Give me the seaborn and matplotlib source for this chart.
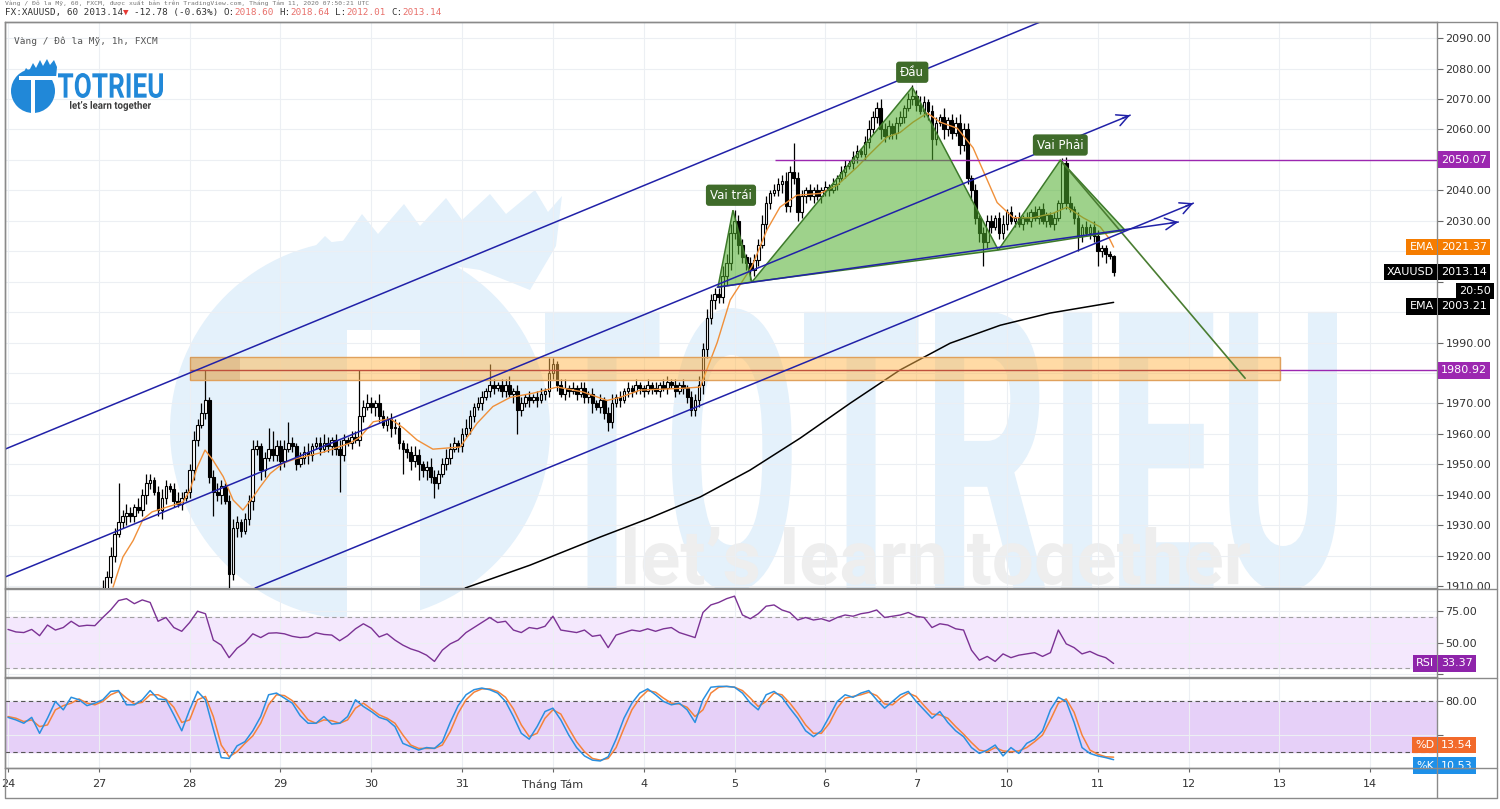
import numpy as np
import pandas as pd
import seaborn as sns
import matplotlib
matplotlib.use("Agg")
import matplotlib.pyplot as plt
from matplotlib.patches import Rectangle, Polygon, Circle, PathPatch
from matplotlib.textpath import TextPath
from matplotlib.font_manager import FontProperties
from matplotlib.transforms import Affine2D, blended_transform_factory
from matplotlib.ticker import FuncFormatter

# ---------------- data: XAUUSD 1h, x = bar index (23 bars per trading day) ----------------
bars_per_day = 23
day_labels = ["24", "27", "28", "29", "30", "31", "Tháng Tám", "4", "5", "6", "7",
              "10", "11", "12", "13", "14"]

first_bar = 23
first_open = 1903.0
closes = (
    [1906, 1909, 1913, 1920, 1927, 1931, 1933, 1934, 1933, 1936, 1935, 1940, 1944, 1945, 1941, 1935,
     1939, 1943, 1942, 1938, 1937, 1939, 1941]                                   # Jul 27
    + [1948, 1958, 1963, 1967, 1971, 1946, 1941, 1940, 1943, 1938, 1914, 1929, 1931, 1928, 1932, 1938,
       1955, 1956, 1948, 1952, 1955, 1953, 1956]                                 # Jul 28
    + [1951, 1955, 1957, 1956, 1950, 1952, 1954, 1953, 1956, 1957, 1955, 1957, 1956, 1958, 1955, 1953,
       1958, 1957, 1959, 1958, 1966, 1969, 1970]                                 # Jul 29
    + [1969, 1970, 1966, 1963, 1965, 1962, 1962, 1957, 1955, 1954, 1951, 1953, 1950, 1948, 1949, 1946,
       1944, 1947, 1950, 1952, 1955, 1957, 1956]                                 # Jul 30
    + [1960, 1962, 1966, 1969, 1970, 1972, 1974, 1976, 1975, 1976, 1974, 1976, 1973, 1974, 1968, 1970,
       1972, 1971, 1972, 1971, 1973, 1974, 1980]                                 # Jul 31
    + [1983, 1976, 1973, 1975, 1974, 1975, 1973, 1975, 1972, 1973, 1970, 1969, 1971, 1967, 1964, 1970,
       1972, 1971, 1974, 1975, 1974, 1976, 1975]                                 # Aug 3
    + [1974, 1976, 1975, 1974, 1976, 1975, 1977, 1976, 1974, 1976, 1975, 1972, 1968, 1971, 1976, 1988,
       1998, 2004, 2006, 2005, 2012, 2016, 2026]                                 # Aug 4
    + [2030, 2022, 2018, 2016, 2014, 2017, 2022, 2029, 2036, 2039, 2040, 2042, 2043, 2035, 2046, 2044,
       2033, 2038, 2040, 2038, 2040, 2038, 2040]                                 # Aug 5
    + [2041, 2040, 2042, 2044, 2046, 2048, 2049, 2051, 2053, 2052, 2056, 2060, 2064, 2067, 2060, 2058,
       2061, 2059, 2062, 2064, 2067, 2070, 2071]                                 # Aug 6
    + [2068, 2066, 2069, 2066, 2057, 2062, 2064, 2060, 2063, 2059, 2062, 2055, 2060, 2044, 2040, 2031,
       2026, 2023, 2030, 2028, 2031, 2026, 2029]                                 # Aug 7
    + [2033, 2030, 2031, 2029, 2031, 2030, 2033, 2031, 2034, 2030, 2032, 2029, 2031, 2036, 2049, 2036,
       2034, 2031, 2025, 2028, 2026, 2028, 2025]                                 # Aug 10
    + [2020, 2021, 2019, 2018.60, 2013.14]                                       # Aug 11
)
up_wick = (
    [2, 3, 2, 3, 2, 13, 2, 3, 2, 1, 3, 2, 3, 2, 1, 2, 3, 2, 1, 2, 3, 2, 1]
    + [2, 3, 2, 3, 10, 1, 2, 3, 2, 1, 2, 3, 2, 1, 2, 2, 3, 2, 1, 2, 7, 6, 2]
    + [2, 3, 7, 2, 1, 2, 2, 3, 1, 2, 2, 3, 2, 1, 2, 3, 2, 1, 2, 2, 15, 2, 3]
    + [2, 1, 3, 2, 1, 2, 3, 2, 1, 2, 2, 3, 2, 1, 2, 3, 2, 1, 2, 3, 2, 2, 1]
    + [2, 3, 2, 1, 2, 2, 1, 7, 2, 1, 2, 2, 3, 1, 2, 2, 1, 2, 1, 2, 2, 1, 5]
    + [2, 1, 2, 3, 1, 2, 1, 2, 2, 1, 2, 1, 2, 1, 2, 3, 1, 2, 1, 2, 1, 2, 1]
    + [1, 2, 1, 2, 1, 2, 2, 1, 2, 1, 2, 1, 2, 2, 3, 2, 3, 2, 2, 2, 3, 3, 3]
    + [3.5, 2, 2, 1, 2, 2, 2, 3, 2, 1, 2, 2, 2, 3, 2, 9.5, 2, 2, 1, 2, 1, 2, 1]
    + [2, 1, 2, 1, 2, 2, 1, 2, 2, 1, 2, 3, 2, 2, 3, 2, 2, 1, 2, 2, 1, 2, 3.5]
    + [2, 3, 2, 1, 2, 2, 1, 3, 1, 2, 2, 3, 2, 2, 1, 2, 1, 2, 2, 2, 1, 2, 3]
    + [1, 2, 1, 2, 1, 2, 1, 2, 1, 2, 1, 1, 2, 1, 1.5, 2, 2, 1, 2, 1, 2, 1, 2]
    + [2, 1, 1, 1, 0.04]
)
down_wick = (
    [3, 2, 3, 2, 2, 1, 2, 3, 2, 2, 1, 2, 3, 2, 1, 2, 3, 2, 1, 2, 1, 2, 1]
    + [2, 3, 2, 1, 2, 2, 8, 2, 3, 1, 5, 2, 3, 2, 1, 2, 3, 2, 3, 2, 1, 2, 2]
    + [3, 2, 1, 2, 2, 1, 2, 3, 2, 1, 2, 1, 2, 3, 2, 12, 2, 1, 2, 1, 2, 2, 1]
    + [2, 3, 2, 1, 2, 3, 2, 2, 8, 2, 3, 2, 5, 2, 3, 2, 5, 2, 1, 2, 2, 1, 2]
    + [2, 1, 2, 2, 1, 2, 1, 2, 2, 1, 2, 2, 1, 3, 8, 2, 1, 2, 1, 2, 1, 2, 2]
    + [2, 2, 1, 2, 2, 1, 2, 1, 2, 2, 3, 1, 2, 2, 3, 2, 1, 2, 1, 2, 2, 1, 2]
    + [2, 1, 2, 1, 2, 1, 2, 1, 2, 1, 2, 2, 2, 2, 2, 3, 3, 2, 3, 2, 2, 3, 2]
    + [2, 3, 2, 2, 3.5, 2, 2, 1, 2, 2, 1, 2, 3, 2, 2, 2, 3, 2, 2, 1, 2, 1, 2]
    + [2, 2, 1, 2, 1, 2, 1, 2, 2, 1, 2, 2, 1, 2, 3, 2, 1, 2, 2, 1, 2, 1, 2]
    + [2, 1, 2, 3, 7, 2, 1, 3, 2, 2, 1, 3, 2, 2, 3, 2, 3, 8, 2, 2, 1, 2, 2]
    + [2, 1, 2, 1, 2, 1, 2, 1, 2, 1, 2, 1, 2, 1, 2, 2, 1, 2, 5, 2, 1, 2, 2]
    + [5, 2, 3, 1, 1.13]
)

# EMA lines (bar, price)
ema_fast_bar = [26.6, 29.1, 31.7, 34.2, 36.5, 40.3, 44.3, 46.1, 47.9, 49.9, 51.9, 54.5, 57.0, 59.5,
                62.1, 63.8, 66.4, 69.7, 73.2, 79.8, 86.6, 89.2, 92.5, 96.8, 100.1, 103.6, 107.6,
                114.5, 118.8, 122.8, 127.2, 133.0, 139.1, 145.6, 151.7, 155.0, 160.1, 171.0, 175.3,
                179.6, 182.9, 188.4, 192.2, 195.5, 199.8, 205.7, 210.0, 215.0, 218.3, 222.6, 225.9,
                229.2, 232.8, 236.1, 240.4, 244.4, 248.0, 250.5, 254.6, 259.6, 264.7, 268.2, 272.3,
                276.6, 279.0, 280.0]
ema_fast_val = [1909.7, 1919.6, 1925, 1932, 1934.4, 1936, 1937.6, 1941.6, 1949, 1954.7, 1951.4, 1946,
                1938.3, 1935, 1939.3, 1942.5, 1947, 1950.4, 1952, 1954, 1957, 1959, 1964, 1965, 1962,
                1958, 1955, 1955.7, 1963.5, 1969, 1972, 1973.4, 1975.4, 1973.8, 1971, 1972, 1974.4,
                1975, 1975.4, 1990, 2004, 2015, 2027, 2034.5, 2038.4, 2039, 2041.7, 2047.6, 2052,
                2057.5, 2059, 2062.4, 2065.4, 2062.4, 2060.4, 2054, 2043.4, 2036, 2031, 2031, 2032.5,
                2034.5, 2031, 2028, 2024, 2021.37]
ema_slow_bar = [115.8, 132.2, 149.9, 162.6, 175.3, 187.9, 200.6, 213.3, 225.9, 238.6, 251.3, 263.9, 280.0]
ema_slow_val = [1909.4, 1916.9, 1926.1, 1932.4, 1939.3, 1948.1, 1958.6, 1970.1, 1981.0, 1989.8,
                1995.7, 1999.7, 2003.21]

# indicators, one value every 2 bars from bar 0
rsi = [60.5, 58.5, 58, 60.5, 55.5, 64, 60, 62, 67, 63,
       63.8, 63.5, 70, 76, 83.5, 85, 81, 84, 82, 67,
       70, 62, 59, 66, 75, 73, 52, 48, 38, 45.5,
       50, 57, 54, 57.5, 57.8, 57, 55, 54, 54.5, 57.8,
       56.5, 56, 51.5, 55.5, 61, 65, 61.5, 54.5, 57, 52,
       48, 45, 43, 40, 35, 44, 49, 52, 58, 62,
       66, 70, 66, 67, 60, 58, 62, 61, 63, 71,
       60, 59, 58, 60, 55, 56, 46, 56, 58, 60,
       59, 61, 59, 61, 62, 58, 56, 54, 74, 80,
       82, 85, 87, 72, 69, 73, 79, 80, 76, 74,
       68, 70, 68, 69, 67, 70, 72, 71, 73, 74,
       76, 70, 71, 72, 74, 71, 70, 62, 65, 64,
       61, 60, 44, 36, 39, 35, 41, 38, 40, 41,
       42, 39, 42, 60, 49, 46, 41, 43, 40, 38,
       33.37]
stoch_k = [61, 58, 54, 61, 42, 60, 80, 70, 85, 82,
           75, 78, 82, 92, 93, 76, 76, 82, 93, 83,
           82, 64, 45, 70, 92, 82, 47, 13, 12, 27,
           32, 45, 62, 88, 90, 84, 78, 63, 54, 54,
           62, 53, 54, 62, 82, 74, 68, 61, 58, 50,
           30, 26, 22, 25, 24, 32, 55, 75, 88, 94,
           96, 94, 90, 80, 62, 42, 35, 50, 68, 72,
           58, 40, 25, 15, 10, 9, 14, 35, 60, 78,
           90, 95, 88, 80, 76, 78, 70, 55, 82, 97,
           98, 98, 97, 90, 78, 70, 88, 92, 85, 72,
           60, 45, 38, 45, 62, 80, 88, 85, 90, 93,
           82, 72, 80, 88, 92, 80, 70, 60, 68, 55,
           45, 38, 25, 18, 22, 28, 15, 25, 18, 30,
           35, 45, 70, 85, 80, 55, 25, 18, 15, 13,
           10.53]
stoch_d = [62, 60, 56, 58, 50, 52, 70, 75, 78, 83,
           78, 76, 80, 88, 92, 84, 77, 79, 88, 88,
           83, 73, 55, 58, 82, 86, 62, 28, 14, 20,
           30, 39, 54, 76, 88, 87, 81, 70, 58, 54,
           58, 57, 54, 58, 72, 78, 71, 64, 60, 54,
           40, 28, 24, 24, 24, 28, 44, 66, 82, 91,
           95, 95, 92, 85, 71, 52, 38, 42, 60, 70,
           65, 48, 32, 20, 12, 10, 12, 25, 48, 70,
           84, 93, 91, 84, 78, 77, 73, 62, 70, 90,
           97, 98, 97, 93, 84, 74, 80, 90, 88, 78,
           66, 52, 42, 42, 54, 72, 84, 86, 88, 91,
           87, 77, 76, 84, 90, 86, 75, 65, 64, 60,
           50, 41, 31, 22, 20, 25, 21, 20, 21, 25,
           32, 40, 58, 78, 83, 67, 40, 22, 17, 14,
           13.54]

# drawings (bar, price)
channel_top = [(-0.76, 1955.0), (270.0, 2099.9)]
channel_mid = [(-0.76, 1913.0), (284.2, 2064.7)]
channel_low = [(62.6, 1909.4), (300.2, 2035.8)]
neck_ray = [(179.6, 2008.2), (296.4, 2029.6)]
left_shoulder = [(179.8, 2008.2), (183.6, 2033.5), (188.4, 2009.9)]
head = [(188.4, 2009.9), (229.0, 2073.9), (250.8, 2020.4)]
right_shoulder = [(250.8, 2020.4), (266.5, 2049.9), (282.9, 2026.9)]
target_leg = [(266.5, 2049.9), (313.3, 1978.3)]
pattern_labels = [("Vai trái", 183.1, 2038.4), ("Đầu", 229.0, 2078.8), ("Vai Phải", 266.5, 2054.9)]
zone = (46.1, 322.2, 1977.7, 1985.2)
zone_line = 1980.92
resistance = 2050.07
resistance_start = 194.3

# tick labels hidden behind price-scale tags
hidden_price_ticks = [2050, 2020, 2010, 2000, 1980]

# ---------------- figure ----------------
sns.set_theme(style="white")
plt.rcParams["font.family"] = ["DejaVu Sans"]
W, H = 1500, 809
fig = plt.figure(figsize=(15, 8.09), dpi=100, facecolor="white")


def frac(x0, y0, x1, y1):
    return [x0 / W, 1 - y1 / H, (x1 - x0) / W, (y1 - y0) / H]


ax_bg = fig.add_axes([0, 0, 1, 1], zorder=0)
ax_bg.set_xlim(0, W)
ax_bg.set_ylim(H, 0)
ax_bg.axis("off")

ax = fig.add_axes(frac(5, 22, 1437, 588), zorder=1)
ax_rsi = fig.add_axes(frac(5, 589, 1437, 677), sharex=ax, zorder=1)
ax_st = fig.add_axes(frac(5, 678, 1437, 768), sharex=ax, zorder=1)

ax_top = fig.add_axes([0, 0, 1, 1], zorder=5)
ax_top.set_xlim(0, W)
ax_top.set_ylim(H, 0)
ax_top.axis("off")


def fit_text(axis, s, box, color, family="DejaVu Sans", weight="bold", clip=None, z=0):
    x0, y0, x1, y1 = box
    tp = TextPath((0, 0), s, size=100, prop=FontProperties(family=family, weight=weight))
    ext = tp.get_extents()
    tr = (Affine2D().translate(-ext.x0, -ext.y0)
          .scale((x1 - x0) / ext.width, -(y1 - y0) / ext.height).translate(x0, y1))
    p = PathPatch(tr.transform_path(tp), fc=color, ec="none", zorder=z)
    axis.add_patch(p)
    if clip is not None:
        p.set_clip_path(clip)


# watermark
wm_blue = "#e4f1fb"
pane_clip = Rectangle((5, 22), 1432, 566, transform=ax_bg.transData)
ax_bg.add_patch(Circle((360, 430), 190, fc=wm_blue, ec="none", zorder=1))
ax_bg.add_patch(Polygon([(300, 262), (325, 236), (338, 248), (362, 214), (378, 234), (404, 204),
                         (420, 226), (446, 198), (462, 220), (490, 194), (506, 214), (535, 190),
                         (548, 212), (562, 196), (556, 246), (530, 290), (480, 270), (400, 258)],
                        fc=wm_blue, ec="none", zorder=1))
ax_bg.add_patch(Rectangle((347, 330), 73, 300, fc="white", ec="none", zorder=2))
fit_text(ax_bg, "TOTRIEU", (545, 308, 1337, 592), wm_blue, family="Roboto", clip=pane_clip, z=3)
fit_text(ax_bg, "let’s learn together", (625, 527, 1250, 600), "#eeeeee", family="Roboto",
         weight="bold", clip=pane_clip, z=4)

for a in (ax, ax_rsi, ax_st):
    a.set_facecolor("none")
    a.grid(True, color="#eceff3", linewidth=0.8)
    a.set_axisbelow(True)
    for sp in a.spines.values():
        sp.set_color("#8a8a8a")
        sp.set_linewidth(1)
    a.yaxis.tick_right()
    a.tick_params(axis="y", which="both", right=True, left=False, length=4, width=0.8,
                  color="#666", labelsize=8, labelcolor="#333", pad=2)


def price_fmt(hidden):
    return FuncFormatter(lambda v, pos: "" if round(v) in hidden else f"{v:.2f}")


ax.yaxis.set_major_formatter(price_fmt(hidden_price_ticks))
ax_rsi.yaxis.set_major_formatter(price_fmt([25]))
ax_st.yaxis.set_major_formatter(price_fmt([40]))

day_pos = [i * bars_per_day for i in range(len(day_labels))]
ax.set_xlim(-0.76, 361.9)
ax.set_xticks(day_pos)
ax_st.set_xticklabels(day_labels)
for a in (ax, ax_rsi):
    a.tick_params(axis="x", bottom=False, labelbottom=False)
ax_st.tick_params(axis="x", bottom=True, length=3, width=0.8, color="#666", labelsize=8,
                  labelcolor="#333", pad=5)

# ---------------- main price pane ----------------
ax.set_ylim(1909.4, 2095.3)
ax.set_yticks(np.arange(1910, 2091, 10))

c = np.array(closes, dtype=float)
o = np.r_[first_open, c[:-1]]
candles = pd.DataFrame({
    "bar": np.arange(first_bar, first_bar + len(c)),
    "open": o, "close": c,
    "high": np.maximum(o, c) + np.array(up_wick),
    "low": np.minimum(o, c) - np.array(down_wick),
})
rising = candles[candles.close >= candles.open]
falling = candles[candles.close < candles.open]
ax.vlines(candles.bar, candles.low, candles.high, color="black", linewidth=0.9, zorder=4)
ax.bar(rising.bar, (rising.close - rising.open).clip(lower=0.2), bottom=rising.open, width=0.68,
       color="white", edgecolor="black", linewidth=0.8, zorder=5)
ax.bar(falling.bar, falling.close - falling.open, bottom=falling.open, width=0.68,
       color="black", edgecolor="black", linewidth=0.8, zorder=5)

sns.lineplot(x=ema_fast_bar, y=ema_fast_val, ax=ax, color="#f0903a", linewidth=1, zorder=6)
sns.lineplot(x=ema_slow_bar, y=ema_slow_val, ax=ax, color="black", linewidth=1.1, zorder=6)

# zone
zx0, zx1, zy0, zy1 = zone
ax.add_patch(Rectangle((zx0, zy0), zx1 - zx0, zy1 - zy0, fc="#ffb74d", alpha=0.5, ec="none", zorder=7))
ax.add_patch(Rectangle((zx0, zy0), zx1 - zx0, zy1 - zy0, fc="none", ec="#e0a15c", lw=1, zorder=7))
ax.add_patch(Rectangle((zx0, zy0), 12.7, zy1 - zy0, fc="#b98a5a", alpha=0.25, ec="none", zorder=7))
ax.hlines(zone_line, zx0, zx1, color="#c0503c", linewidth=1, zorder=7)
ax.hlines(zone_line, zx1, 361.9, color="#9c27b0", linewidth=1, zorder=7)
ax.hlines(resistance, resistance_start, 361.9, color="#9c27b0", linewidth=1, zorder=7)

# head & shoulders
for tri in (left_shoulder, head, right_shoulder):
    ax.add_patch(Polygon(tri, closed=True, fc="#4fae2c", alpha=0.55, ec="none", zorder=8))
    ax.add_patch(Polygon(tri, closed=True, fc="none", ec="#3d7a2a", lw=1.1, zorder=8))
(tx0, ty0), (tx1, ty1) = target_leg
ax.plot([tx0, tx1], [ty0, ty1], color="#4a7d32", linewidth=1.2, zorder=8)

# channel
blue = "#2121a8"
ax.plot([channel_top[0][0], channel_top[1][0]], [channel_top[0][1], channel_top[1][1]],
        color=blue, linewidth=1.1, zorder=9)
for seg in (channel_mid, channel_low, neck_ray):
    (sx0, sy0), (sx1, sy1) = seg
    ax.plot([sx0, sx1], [sy0, sy1], color=blue, linewidth=1.1, zorder=9)
    slope = (sy1 - sy0) / (sx1 - sx0)
    ax.annotate("", xy=(sx1, sy1), xytext=(sx1 - 2.0, sy1 - 2.0 * slope),
                arrowprops=dict(arrowstyle="->,head_length=0.7,head_width=0.35", color=blue, lw=1.1,
                                shrinkA=0, shrinkB=0, mutation_scale=12), zorder=9)

for txt, bx, py in pattern_labels:
    ax.text(bx, py, txt, ha="center", va="center", color="white", fontsize=8.5, zorder=12,
            bbox=dict(boxstyle="round,pad=0.35,rounding_size=0.25", fc="#3f6b2a", ec="none"))

# ---------------- RSI pane ----------------
ind_bar = np.arange(0, 2 * len(rsi), 2)
ax_rsi.set_ylim(22.6, 92.7)
ax_rsi.set_yticks([25, 50, 75])
ax_rsi.axhspan(30, 70, color="#f4e8fd", zorder=0.5)
for lv in (30, 70):
    ax_rsi.axhline(lv, color="#a0a0a0", linewidth=0.8, linestyle=(0, (4, 3)), zorder=1)
sns.lineplot(x=ind_bar, y=rsi, ax=ax_rsi, color="#7b3294", linewidth=1, zorder=3)

# ---------------- Stochastic pane ----------------
ax_st.set_ylim(0.6, 108)
ax_st.set_yticks([40, 80])
ax_st.axhspan(20, 80, color="#e6d0f8", zorder=0.5)
for lv in (20, 80):
    ax_st.axhline(lv, color="#555", linewidth=0.8, linestyle=(0, (4, 3)), zorder=1)
sns.lineplot(x=ind_bar, y=stoch_d, ax=ax_st, color="#f5823a", linewidth=1.1, zorder=3)
sns.lineplot(x=ind_bar, y=stoch_k, ax=ax_st, color="#2a90e0", linewidth=1.1, zorder=4)
for a in (ax, ax_rsi, ax_st):
    a.set_xlabel("")
    a.set_ylabel("")


# ---------------- price-scale tags ----------------
def tag(axis, val, text, fc, left=None, dy=0):
    tr = blended_transform_factory(axis.transAxes, axis.transData)
    axis.annotate(text, xy=(1, val), xycoords=tr, xytext=(4, dy), textcoords="offset pixels",
                  ha="left", va="center", color="white", fontsize=8, annotation_clip=False,
                  zorder=20, bbox=dict(boxstyle="square,pad=0.3", fc=fc, ec="none"))
    if left:
        axis.annotate(left, xy=(1, val), xycoords=tr, xytext=(-3, dy), textcoords="offset pixels",
                      ha="right", va="center", color="white", fontsize=8, annotation_clip=False,
                      zorder=20, bbox=dict(boxstyle="square,pad=0.3", fc=fc, ec="none"))


tag(ax, resistance, f"{resistance:.2f}", "#9c27b0")
tag(ax, ema_fast_val[-1], f"{ema_fast_val[-1]:.2f}", "#f57c00", left="EMA")
tag(ax, closes[-1], f"{closes[-1]:.2f}", "black", left="XAUUSD")
tag(ax, ema_slow_val[-1], f"{ema_slow_val[-1]:.2f}", "black", left="EMA", dy=-4)
tag(ax, zone_line, f"{zone_line:.2f}", "#9c27b0")
ax.annotate("20:50", xy=(1, closes[-1]), xycoords=blended_transform_factory(ax.transAxes, ax.transData),
            xytext=(38, -19), textcoords="offset pixels", ha="center", va="center", color="white",
            fontsize=8, annotation_clip=False, zorder=21,
            bbox=dict(boxstyle="square,pad=0.3", fc="black", ec="none"))
tag(ax_rsi, rsi[-1], f"{rsi[-1]:.2f}", "#8e24aa", left="RSI")
tag(ax_st, stoch_d[-1], f"{stoch_d[-1]:.2f}", "#f26a2b", left="%D", dy=12)
tag(ax_st, stoch_k[-1], f"{stoch_k[-1]:.2f}", "#1e90e8", left="%K", dy=-6)

# ---------------- frame, header, logo ----------------
frame = "#8a8a8a"
ax_top.plot([5, 1497, 1497, 5, 5], [22, 22, 798, 798, 22], color=frame, linewidth=1)
for yy in (588.5, 677.5, 768):
    ax_top.plot([1437, 1497], [yy, yy], color=frame, linewidth=1)
ax_top.plot([5, 1437], [768, 768], color=frame, linewidth=1)
ax_top.plot([1437, 1437], [768, 798], color=frame, linewidth=1)

mono = ["DejaVu Sans Mono", "DejaVu Sans"]
cw = 5.6
ax_top.text(5, 0.5, "Vàng / Đô la Mỹ, 60, FXCM, được xuất bản trên TradingView.com, Tháng Tám 11, 2020 07:50:21 UTC",
            family=mono, fontsize=4.6, color="#777", va="top", ha="left")
header = [(0, "FX:XAUUSD, 60 2013.14", "#333"), (21, "▼", "#e53935"), (23, "-12.78 (-0.63%)", "#333"),
          (39, "O:", "#333"), (41, "2018.60", "#e8706b"), (49, "H:", "#333"), (51, "2018.64", "#e8706b"),
          (59, "L:", "#333"), (61, "2012.01", "#e8706b"), (69, "C:", "#333"), (71, "2013.14", "#e8706b")]
for col, s, colr in header:
    ax_top.text(5 + col * cw, 12.5, s, family=mono, fontsize=6.7, color=colr, va="center", ha="left")
ax_top.text(14, 41, "Vàng / Đô la Mỹ, 1h, FXCM", family=mono, fontsize=6.8, color="#555",
            va="center", ha="left")

logo_blue = "#2188d8"
ax_top.add_patch(Circle((33, 91), 22, fc=logo_blue, ec="none", zorder=3))
ax_top.add_patch(Polygon([(22, 76), (26, 68), (29, 71), (33, 63), (36, 68), (40, 60), (43, 66),
                          (47, 59), (50, 65), (54, 60), (57, 67), (56, 78)],
                         fc=logo_blue, ec="none", zorder=3))
ax_top.add_patch(Rectangle((19, 76), 38, 3.5, fc="white", ec="none", zorder=4))
ax_top.add_patch(Rectangle((31, 79.5), 3.5, 35, fc="white", ec="none", zorder=4))
fit_text(ax_top, "TOTRIEU", (58, 73, 163, 98), logo_blue, family="Roboto", z=5)
fit_text(ax_top, "let’s learn together", (70, 101, 151, 111), "#3a3a3a", family="Roboto", z=5)

fig.savefig("out.png", dpi=100, facecolor="white")
